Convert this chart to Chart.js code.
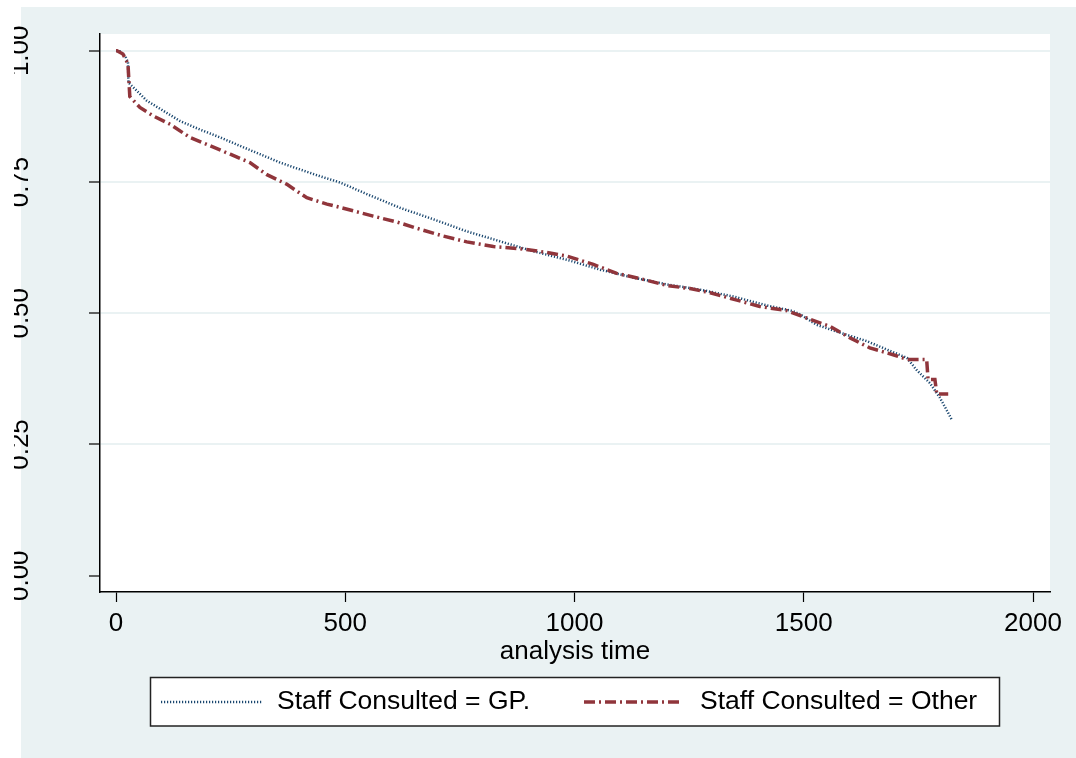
<!DOCTYPE html>
<html>
<head>
<meta charset="utf-8">
<script src="https://cdn.jsdelivr.net/npm/chart.js@4/dist/chart.umd.min.js"></script>
<style>
  html, body { margin: 0; padding: 0; background: #ffffff; }
  canvas { display: block; }
</style>
</head>
<body>
<canvas id="c" width="1076" height="758"></canvas>
<script>
// ---- data ----
const gpTime = [0, 9, 20, 26, 27, 30, 45, 67, 110, 140, 183, 227, 270, 314, 358, 401, 445, 489, 547, 619, 692, 765, 838, 910, 983, 1056, 1128, 1201, 1274, 1346, 1419, 1477, 1492, 1528, 1579, 1637, 1681, 1725, 1746, 1775, 1797, 1815, 1823];
const gpSurv = [1.000, 0.999, 0.990, 0.978, 0.940, 0.937, 0.924, 0.905, 0.882, 0.866, 0.850, 0.835, 0.819, 0.803, 0.787, 0.774, 0.761, 0.749, 0.727, 0.701, 0.679, 0.656, 0.637, 0.618, 0.602, 0.583, 0.568, 0.555, 0.545, 0.532, 0.515, 0.504, 0.498, 0.478, 0.463, 0.447, 0.431, 0.415, 0.392, 0.367, 0.339, 0.310, 0.297];

const otherTime = [0, 2, 15, 26, 30, 52, 81, 118, 161, 205, 249, 292, 329, 372, 416, 460, 518, 561, 612, 663, 714, 765, 823, 881, 939, 983, 1041, 1092, 1143, 1201, 1252, 1296, 1354, 1404, 1463, 1506, 1557, 1601, 1644, 1695, 1725, 1768, 1771, 1786, 1790, 1815];
const otherSurv = [1.000, 1.000, 0.994, 0.975, 0.913, 0.892, 0.876, 0.860, 0.835, 0.819, 0.803, 0.787, 0.764, 0.746, 0.720, 0.708, 0.695, 0.685, 0.674, 0.660, 0.647, 0.636, 0.627, 0.623, 0.616, 0.609, 0.593, 0.576, 0.566, 0.553, 0.547, 0.539, 0.525, 0.513, 0.505, 0.491, 0.475, 0.453, 0.434, 0.421, 0.412, 0.412, 0.374, 0.374, 0.346, 0.346];

const seriesNames = ['Staff Consulted = GP.', 'Staff Consulted = Other'];
const xTicks = [0, 500, 1000, 1500, 2000];
const xTickLabels = ['0', '500', '1000', '1500', '2000'];
const yTicks = [0, 0.25, 0.5, 0.75, 1];
const yTickLabels = ['0.00', '0.25', '0.50', '0.75', '1.00'];
const xTitle = 'analysis time';

// ---- styles ----
const FONT = "'Liberation Sans', Arial, sans-serif";
const BLUE = '#1a476f';
const RED = '#90353b';
const BG = '#eaf2f3';

const toPts = (xs, ys) => xs.map((x, i) => ({ x: x, y: ys[i] }));

const bgPlugin = {
  id: 'bg',
  beforeDraw(chart) {
    const ctx = chart.ctx;
    const ca = chart.chartArea;
    ctx.save();
    ctx.fillStyle = '#ffffff';
    ctx.fillRect(0, 0, chart.width, chart.height);
    ctx.fillStyle = BG;
    ctx.fillRect(21, 7, chart.width - 21, chart.height - 7);
    ctx.fillStyle = '#ffffff';
    ctx.fillRect(ca.left, ca.top, ca.right - ca.left, ca.bottom - ca.top);
    ctx.restore();
  }
};

const yLabelPlugin = {
  id: 'ylabels',
  afterDraw(chart) {
    const ctx = chart.ctx;
    const ys = chart.scales.y;
    ctx.save();
    ctx.beginPath();
    ctx.rect(14, 0, 100, chart.height);
    ctx.clip();
    ctx.fillStyle = '#000';
    ctx.font = '26px ' + FONT;
    ctx.textAlign = 'center';
    ctx.textBaseline = 'alphabetic';
    yTicks.forEach((v, i) => {
      const py = ys.getPixelForValue(v);
      ctx.save();
      ctx.translate(28, py);
      ctx.rotate(-Math.PI / 2);
      ctx.fillText(yTickLabels[i], 0, 0);
      ctx.restore();
    });
    ctx.restore();
  }
};

const legendPlugin = {
  id: 'boxlegend',
  afterDraw(chart) {
    const ctx = chart.ctx;
    ctx.save();
    ctx.fillStyle = '#ffffff';
    ctx.fillRect(150, 677, 850, 49);
    ctx.strokeStyle = '#222';
    ctx.lineWidth = 1.5;
    ctx.strokeRect(150.5, 677.5, 849, 48.5);
    const cy = 702;
    const items = [
      { x0: 161, x1: 262, tx: 277, ds: chart.data.datasets[0] },
      { x0: 584, x1: 683, tx: 700, ds: chart.data.datasets[1] }
    ];
    items.forEach(it => {
      ctx.save();
      ctx.strokeStyle = it.ds.borderColor;
      ctx.lineWidth = it.ds.borderWidth;
      ctx.setLineDash(it.ds.borderDash || []);
      ctx.beginPath();
      ctx.moveTo(it.x0, cy);
      ctx.lineTo(it.x1, cy);
      ctx.stroke();
      ctx.restore();
      ctx.fillStyle = '#000';
      ctx.font = '26.5px ' + FONT;
      ctx.textAlign = 'left';
      ctx.textBaseline = 'middle';
      ctx.fillText(it.ds.label, it.tx, cy);
    });
    ctx.restore();
  }
};

new Chart(document.getElementById('c'), {
  type: 'line',
  data: {
    datasets: [
      {
        label: seriesNames[0],
        data: toPts(gpTime, gpSurv),
        borderColor: BLUE,
        borderWidth: 2.5,
        borderDash: [1.2, 1.8],
        pointRadius: 0,
        tension: 0,
        fill: false,
        order: 1
      },
      {
        label: seriesNames[1],
        data: toPts(otherTime, otherSurv),
        borderColor: RED,
        borderWidth: 3.5,
        borderDash: [11, 4, 2, 4],
        pointRadius: 0,
        tension: 0,
        fill: false,
        order: 0
      }
    ]
  },
  options: {
    responsive: false,
    animation: false,
    devicePixelRatio: 1,
    layout: { padding: { left: 0, top: 34, right: 26, bottom: 91 } },
    plugins: {
      legend: { display: false },
      tooltip: { enabled: false },
      title: { display: false }
    },
    scales: {
      x: {
        type: 'linear',
        min: -35,
        max: 2037,
        afterBuildTicks: s => { s.ticks = xTicks.map(v => ({ value: v })); },
        afterFit: s => { s.height = 75; },
        ticks: {
          font: { family: FONT, size: 26 },
          color: '#000',
          padding: 6,
          maxRotation: 0,
          autoSkip: false,
          callback: (v) => { const i = xTicks.indexOf(v); return i >= 0 ? xTickLabels[i] : String(v); }
        },
        grid: {
          drawOnChartArea: false,
          drawTicks: true,
          tickLength: 10,
          tickColor: '#000',
          tickWidth: 1.2
        },
        border: { display: true, color: '#000', width: 1.5 },
        title: {
          display: true,
          text: xTitle,
          color: '#000',
          font: { family: FONT, size: 26 },
          padding: { top: 0, bottom: 0 }
        }
      },
      y: {
        type: 'linear',
        min: -0.031,
        max: 1.032,
        afterBuildTicks: s => { s.ticks = yTicks.map(v => ({ value: v })); },
        afterFit: s => { s.width = 100; },
        ticks: { display: false },
        grid: {
          color: c => (c.tick && c.tick.value === 0) ? 'rgba(0,0,0,0)' : BG,
          lineWidth: 2,
          drawTicks: true,
          tickLength: 11,
          tickColor: '#000',
          tickWidth: 1.2
        },
        border: { display: true, color: '#000', width: 1.5 }
      }
    }
  },
  plugins: [bgPlugin, yLabelPlugin, legendPlugin]
});
</script>
</body>
</html>
